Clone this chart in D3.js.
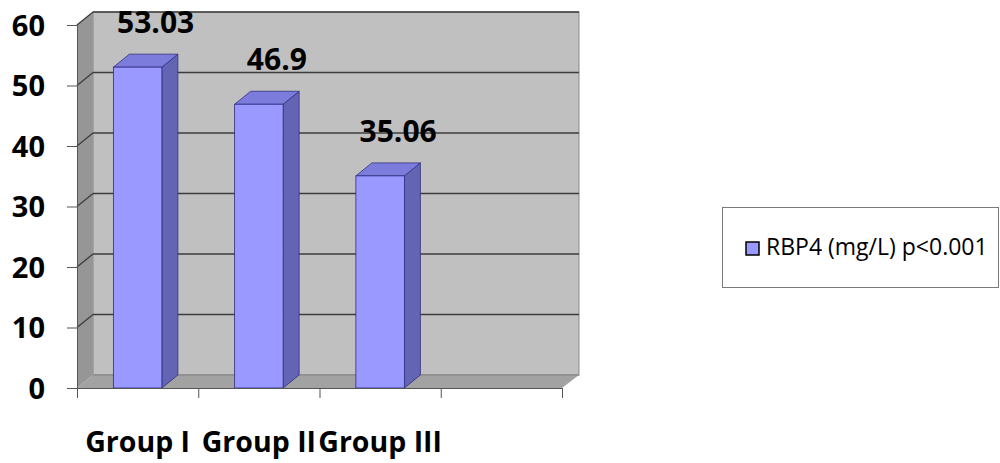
<!DOCTYPE html>
<html>
<head>
<meta charset="utf-8">
<script src="https://cdn.jsdelivr.net/npm/d3@7"></script>
<style>
  html, body { margin: 0; padding: 0; background: #ffffff; }
  svg { display: block; }
</style>
</head>
<body>
<svg id="chart" width="1000" height="463"></svg>
<script>
// Chart data
const categories = ["Group I", "Group II", "Group III", ""];
const values = [53.03, 46.9, 35.06];
const valueLabels = ["53.03", "46.9", "35.06"];
const yTicks = [0, 10, 20, 30, 40, 50, 60];
const seriesName = "RBP4 (mg/L) p<0.001";

(function () {
  const svg = d3.select("#chart");

  // plot frame (front plane) and 3-D depth offset
  const plotL = 77, plotR = 562, plotT = 25, plotB = 388;
  const dx = 16, dy = -13;

  const y = d3.scaleLinear().domain([0, 60]).range([plotB, plotT]);
  const xCat = d3.scaleBand().domain(categories).range([plotL, plotR]).padding(0);
  const xBar = xCat.copy().paddingInner(0.6).paddingOuter(0.3);
  const xIdx = d3.scaleLinear().domain([0, categories.length]).range([plotL, plotR]);

  const gridColor = "#3c3c3c";
  const font = "'Open Sans', 'DejaVu Sans', sans-serif";

  // back wall
  svg.append("rect")
    .attr("x", plotL + dx).attr("y", plotT + dy)
    .attr("width", (plotR + dx + 1) - (plotL + dx)).attr("height", plotB - plotT)
    .attr("fill", "#c0c0c0")
    .attr("stroke", "#8a8a8a").attr("stroke-width", 1);

  // side wall
  svg.append("polygon")
    .attr("points", [[plotL, plotT], [plotL + dx, plotT + dy], [plotL + dx, plotB + dy], [plotL, plotB]].join(" "))
    .attr("fill", "#969696");

  // floor
  svg.append("polygon")
    .attr("points", [[plotL, plotB], [plotL + dx, plotB + dy], [plotR + dx + 1, plotB + dy], [plotR, plotB]].join(" "))
    .attr("fill", "#a2a2a2");
  svg.append("line")
    .attr("x1", plotL + dx).attr("x2", plotR + dx + 1)
    .attr("y1", plotB + dy).attr("y2", plotB + dy)
    .attr("stroke", "#8c8c8c").attr("stroke-width", 1.5);

  // gridlines: diagonal on the side wall + horizontal on the back wall
  const grid = svg.append("g");
  yTicks.filter(v => v > 0).forEach(v => {
    const yy = y(v);
    grid.append("line")
      .attr("x1", plotL).attr("y1", yy).attr("x2", plotL + dx).attr("y2", yy + dy)
      .attr("stroke", gridColor).attr("stroke-width", 1.3);
    grid.append("line")
      .attr("x1", plotL + dx).attr("y1", yy + dy).attr("x2", plotR + dx + 1).attr("y2", yy + dy)
      .attr("stroke", gridColor).attr("stroke-width", 1.5);
  });

  // bars (side, top, front faces)
  const barW = xBar.bandwidth();
  const bars = svg.append("g").selectAll("g").data(values).join("g");
  bars.each(function (v, i) {
    const g = d3.select(this);
    const x0 = xBar(categories[i]);
    const x1 = x0 + barW;
    const yt = y(v);
    g.append("polygon")
      .attr("points", [[x1, yt], [x1 + dx, yt + dy], [x1 + dx, plotB + dy], [x1, plotB]].join(" "))
      .attr("fill", "#6464b4").attr("stroke", "#2e2e80").attr("stroke-width", 0.8);
    g.append("polygon")
      .attr("points", [[x0, yt], [x0 + dx, yt + dy], [x1 + dx, yt + dy], [x1, yt]].join(" "))
      .attr("fill", "#7c7cdc").attr("stroke", "#2e2e80").attr("stroke-width", 0.8);
    g.append("rect")
      .attr("x", x0).attr("y", yt).attr("width", barW).attr("height", plotB - yt)
      .attr("fill", "#9999ff").attr("stroke", "#2e2e80").attr("stroke-width", 0.8);
  });

  // value labels
  svg.append("g").selectAll("text").data(values).join("text")
    .attr("x", (v, i) => xBar(categories[i]) + barW / 2 + 18)
    .attr("y", v => y(v) - 34)
    .attr("text-anchor", "middle")
    .attr("font-family", font)
    .attr("font-weight", "bold")
    .attr("font-size", 30)
    .attr("fill", "#000")
    .text((v, i) => valueLabels[i]);

  // y axis
  const yAxis = svg.append("g")
    .attr("transform", `translate(${plotL},0)`)
    .call(d3.axisLeft(y).tickValues(yTicks).tickSize(10).tickPadding(22).tickFormat(d3.format("d")));
  yAxis.select(".domain").attr("stroke", "#555").attr("stroke-width", 1);
  yAxis.selectAll(".tick line").attr("stroke", "#555");
  yAxis.selectAll("text")
    .attr("font-family", font)
    .attr("font-weight", "bold")
    .attr("font-size", 29)
    .attr("fill", "#000")
    .attr("dy", "0.36em");

  // x axis: ticks at category boundaries
  const xAxis = svg.append("g")
    .attr("transform", `translate(0,${plotB})`)
    .call(d3.axisBottom(xIdx).tickValues(d3.range(categories.length + 1)).tickSize(10).tickFormat(""));
  xAxis.select(".domain").attr("stroke", "#555").attr("stroke-width", 1);
  xAxis.selectAll(".tick line").attr("stroke", "#555");

  // category labels
  svg.append("g").selectAll("text").data(categories.filter(c => c)).join("text")
    .attr("x", c => xCat(c) + xCat.bandwidth() / 2)
    .attr("y", 452)
    .attr("text-anchor", "middle")
    .attr("font-family", font)
    .attr("font-weight", "bold")
    .attr("font-size", 28.5)
    .attr("fill", "#000")
    .text(c => c);

  // legend
  const legend = svg.append("g");
  legend.append("rect")
    .attr("x", 722.5).attr("y", 207.5).attr("width", 276).attr("height", 80)
    .attr("fill", "#fff").attr("stroke", "#7a7a7a").attr("stroke-width", 1);
  legend.append("rect")
    .attr("x", 746).attr("y", 242).attr("width", 13).attr("height", 13)
    .attr("fill", "#9999ff").attr("stroke", "#000").attr("stroke-width", 1.5);
  legend.append("text")
    .attr("x", 766).attr("y", 255)
    .attr("font-family", font)
    .attr("font-size", 23)
    .attr("fill", "#000")
    .text(seriesName);
})();
</script>
</body>
</html>
